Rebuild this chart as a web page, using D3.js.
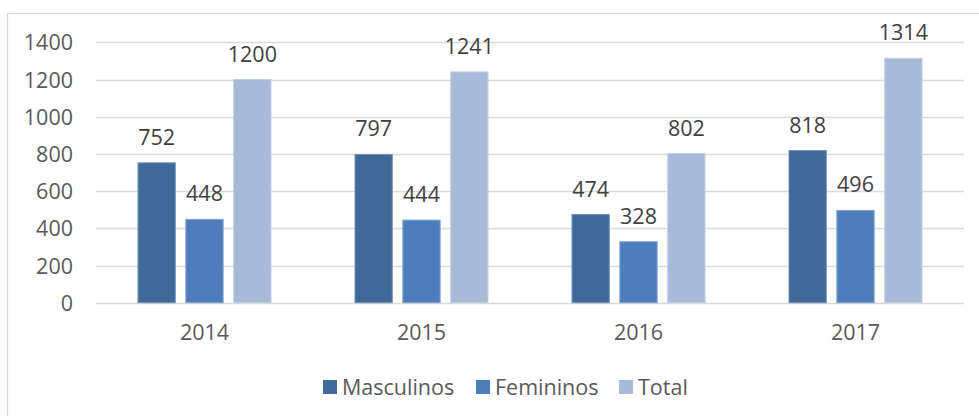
<!DOCTYPE html>
<html><head><meta charset="utf-8">
<script src="https://cdn.jsdelivr.net/npm/d3@7"></script>
<style>body{margin:0;background:#fff}svg{display:block}</style>
</head><body>
<svg id="c" width="979" height="416"></svg>
<script>
const years = ["2014","2015","2016","2017"];
const seriesNames = ["Masculinos","Femininos","Total"];
const masculinos = [752, 797, 474, 818];
const femininos = [448, 444, 328, 496];
const total = [1200, 1241, 802, 1314];
const yTicks = [0,200,400,600,800,1000,1200,1400];
const colors = ["#3F6999","#4D7EBB","#A9B9D8"];
const strokes = ["#7391BA","#7FA3D0","#C3CFE6"];

const seriesValues = [masculinos, femininos, total];
const font = "'Open Sans', sans-serif";
const fs = 21.5;
const txt = "#595959";
const svg = d3.select("#c");

// outer border
svg.append("rect").attr("x",7.5).attr("y",13.5).attr("width",1000).attr("height",430)
  .attr("fill","none").attr("stroke","#D9D9D9").attr("stroke-width",1.3);

const x0 = d3.scaleBand().domain(years).range([96,964]).paddingInner(0).paddingOuter(0);
const x1 = d3.scaleBand().domain(seriesNames).range([41.5, 175.5]).paddingInner(0.2);
const y = d3.scaleLinear().domain([0,1400]).range([302.7, 42.3]);

// gridlines
svg.append("g").selectAll("line").data(yTicks).join("line")
  .attr("x1",96).attr("x2",964)
  .attr("y1",d=>Math.round(y(d))+0.5).attr("y2",d=>Math.round(y(d))+0.5)
  .attr("stroke","#D9D9D9").attr("stroke-width",1.3);

// y axis labels
const yAxis = d3.axisLeft(y).tickValues(yTicks).tickFormat(d3.format("d")).tickSize(0).tickPadding(0);
const ya = svg.append("g").attr("transform","translate(73,0)").call(yAxis);
ya.select(".domain").remove();
ya.selectAll("text").attr("font-family",font).attr("font-size",fs).attr("fill",txt).attr("dy","0.35em");

// x axis labels
const xAxis = d3.axisBottom(x0).tickSize(0).tickPadding(0);
const xa = svg.append("g").attr("transform","translate(0,325)").call(xAxis);
xa.select(".domain").remove();
xa.selectAll("text").attr("font-family",font).attr("font-size",fs).attr("fill",txt).attr("dy","0.71em");

// bars
const groups = svg.append("g").selectAll("g").data(years).join("g")
  .attr("transform",d=>`translate(${x0(d)},0)`);
groups.selectAll("rect").data((d,i)=>seriesNames.map((s,j)=>({s,j,v:seriesValues[j][i]}))).join("rect")
  .attr("x",d=>x1(d.s)+0.5).attr("width",x1.bandwidth()-1)
  .attr("y",d=>y(d.v)).attr("height",d=>y(0)-y(d.v))
  .attr("fill",d=>colors[d.j]).attr("stroke",d=>strokes[d.j]).attr("stroke-width",1);
groups.selectAll("text").data((d,i)=>seriesNames.map((s,j)=>({s,j,v:seriesValues[j][i]}))).join("text")
  .attr("x",d=>x1(d.s)+x1.bandwidth()/2).attr("y",d=>y(d.v)-18)
  .attr("text-anchor","middle").attr("font-family",font).attr("font-size",fs).attr("fill","#404040")
  .text(d=>d.v);

// legend
const legendX = [323, 476, 619];
const lg = svg.append("g").selectAll("g").data(seriesNames).join("g")
  .attr("transform",(d,i)=>`translate(${legendX[i]},380)`);
lg.append("rect").attr("width",14).attr("height",14).attr("fill",(d,i)=>colors[i]);
lg.append("text").attr("x",19).attr("y",7).attr("dy","0.35em")
  .attr("font-family",font).attr("font-size",fs).attr("fill",txt).text(d=>d);
</script>
</body></html>
